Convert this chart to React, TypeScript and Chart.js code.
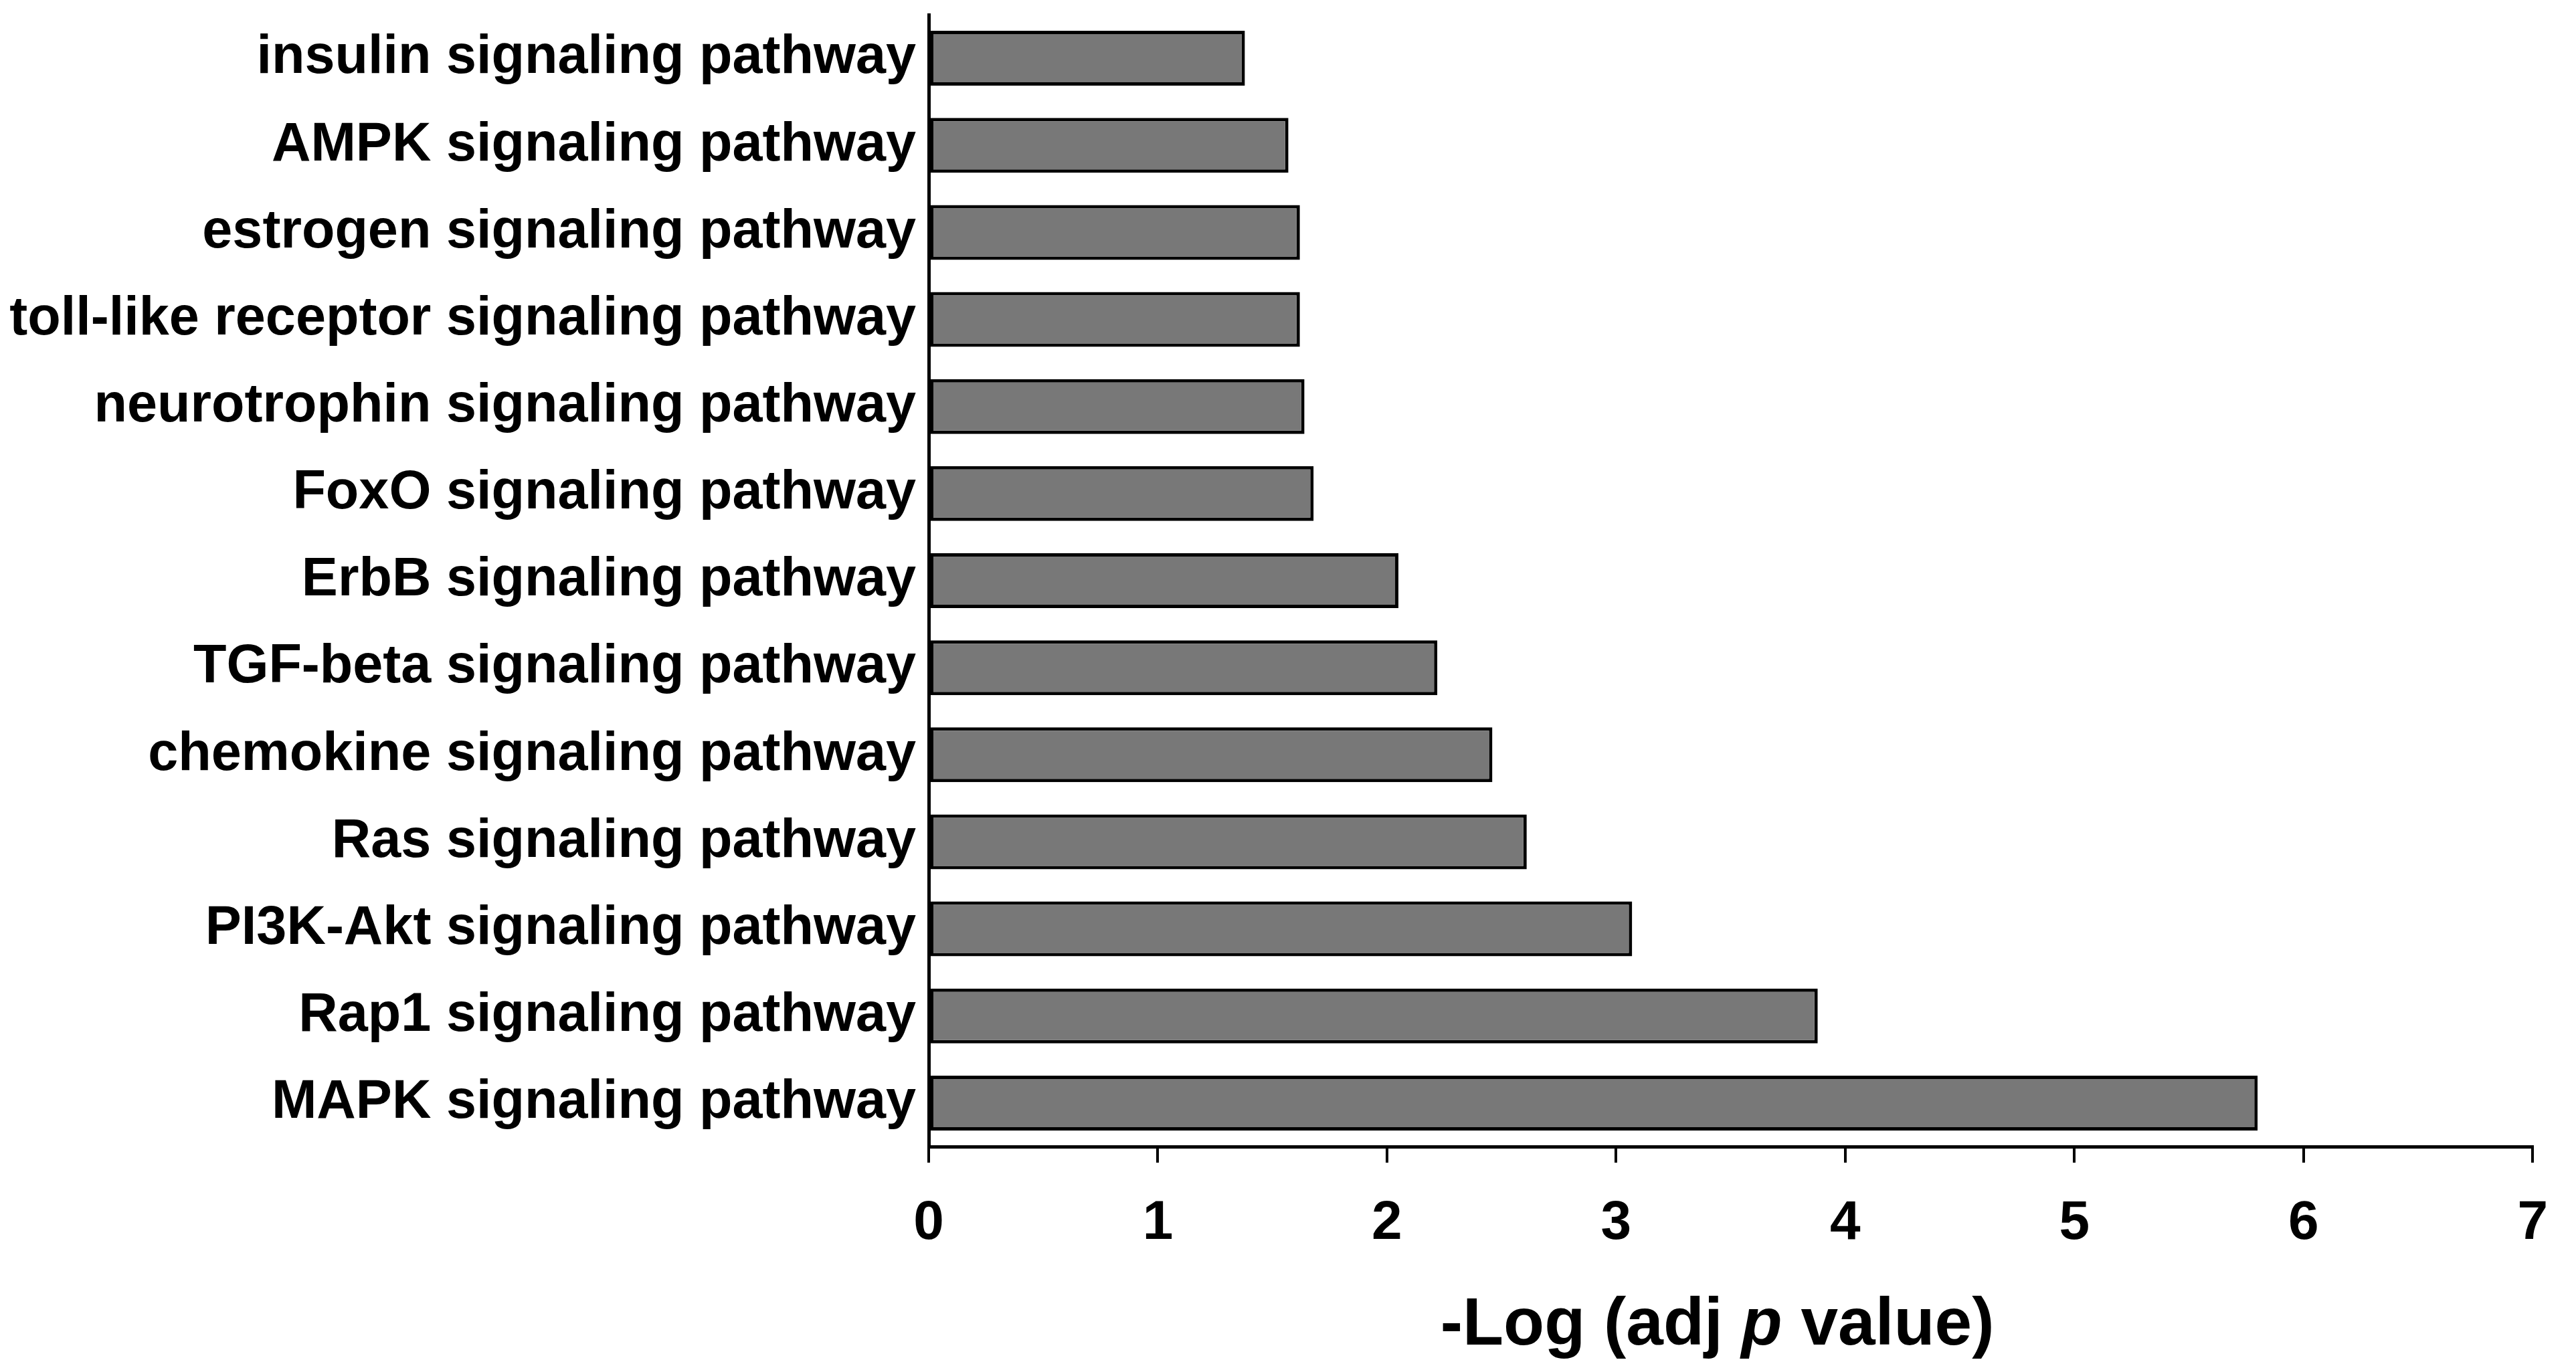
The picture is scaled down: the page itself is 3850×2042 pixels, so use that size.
import React, { useEffect, useRef } from "react";
import { Chart, registerables } from "chart.js";

Chart.register(...registerables);

const pathways = [
  "insulin signaling pathway",
  "AMPK signaling pathway",
  "estrogen signaling pathway",
  "toll-like receptor signaling pathway",
  "neurotrophin signaling pathway",
  "FoxO signaling pathway",
  "ErbB signaling pathway",
  "TGF-beta signaling pathway",
  "chemokine signaling pathway",
  "Ras signaling pathway",
  "PI3K-Akt signaling pathway",
  "Rap1 signaling pathway",
  "MAPK signaling pathway",
];

// -log10(adjusted p) per pathway, same order as above
const negLogP = [1.38, 1.57, 1.62, 1.62, 1.64, 1.68, 2.05, 2.22, 2.46, 2.61, 3.07, 3.88, 5.8];

const xMin = 0;
const xMax = 7;

const FONT = "'Liberation Sans', Arial, Helvetica, sans-serif";

// x axis title with an italic "p", drawn under the tick labels
const titleParts = [
  { text: "-Log (adj ", italic: false },
  { text: "p", italic: true },
  { text: " value)", italic: false },
];

const axisTitlePlugin = {
  id: "axisTitle",
  afterDraw(chart: Chart) {
    const x = chart.scales.x;
    if (!x) return;
    const ctx = chart.ctx;
    const size = 100;
    const fontFor = (it: boolean) => `${it ? "italic " : ""}bold ${size}px ${FONT}`;
    ctx.save();
    let total = 0;
    const widths = titleParts.map((p) => {
      ctx.font = fontFor(p.italic);
      const w = ctx.measureText(p.text).width;
      total += w;
      return w;
    });
    let cx = (x.left + x.right) / 2 - 20 - total / 2;
    const cy = x.bottom - 60;
    ctx.fillStyle = "#000";
    ctx.textBaseline = "middle";
    ctx.textAlign = "left";
    titleParts.forEach((p, i) => {
      ctx.font = fontFor(p.italic);
      ctx.fillText(p.text, cx, cy);
      cx += widths[i];
    });
    ctx.restore();
  },
};

export default function App() {
  const canvasRef = useRef<HTMLCanvasElement | null>(null);
  const chartRef = useRef<Chart | null>(null);

  useEffect(() => {
    if (!canvasRef.current) return;
    const ctx = canvasRef.current.getContext("2d");
    if (!ctx) return;

    if (chartRef.current) chartRef.current.destroy();

    chartRef.current = new Chart(ctx, {
      type: "bar",
      data: {
        labels: pathways,
        datasets: [
          {
            data: negLogP,
            backgroundColor: "#787878",
            borderColor: "#000",
            borderWidth: 5,
            borderSkipped: false,
            barPercentage: 0.63,
            categoryPercentage: 1,
          },
        ],
      },
      options: {
        indexAxis: "y",
        responsive: false,
        animation: false,
        devicePixelRatio: 1,
        layout: { padding: { top: 22, right: 42, bottom: 0, left: 0 } },
        plugins: {
          legend: { display: false },
          tooltip: { enabled: false },
        },
        scales: {
          x: {
            type: "linear",
            min: xMin,
            max: xMax,
            afterFit: (axis: any) => {
              axis.height = 328;
            },
            ticks: {
              stepSize: 1,
              color: "#000",
              padding: 42,
              font: { family: FONT, size: 82, weight: "bold" },
            },
            grid: {
              display: true,
              drawOnChartArea: false,
              drawTicks: true,
              tickLength: 24,
              color: "#000",
              lineWidth: 4,
            },
            border: { display: true, color: "#000", width: 5 },
          },
          y: {
            type: "category",
            afterFit: (axis: any) => {
              axis.width = 1388;
              axis.paddingTop = 0;
              axis.paddingBottom = 0;
            },
            ticks: {
              color: "#000",
              padding: 19,
              font: { family: FONT, size: 81, weight: "bold" },
            },
            grid: { display: false, drawTicks: false },
            border: { display: true, color: "#000", width: 5 },
          },
        },
      },
      plugins: [axisTitlePlugin],
    });

    return () => {
      if (chartRef.current) {
        chartRef.current.destroy();
        chartRef.current = null;
      }
    };
  }, []);

  return (
    <div style={{ position: "fixed", left: 0, top: 0, width: 3850, height: 2042, background: "#fff" }}>
      <canvas ref={canvasRef} width={3850} height={2042} style={{ width: 3850, height: 2042 }} />
    </div>
  );
}
